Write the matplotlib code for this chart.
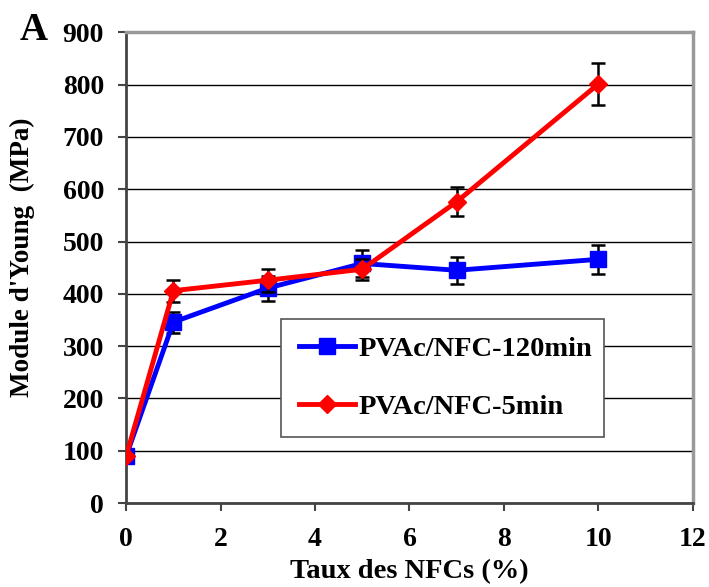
import matplotlib.pyplot as plt
from matplotlib.lines import Line2D

# Young's modulus vs NFC content
taux = [0, 1, 3, 5, 7, 10]

module_120 = [90, 346, 411, 458, 445, 466]
err_120 = [0, 20, 24, 25, 26, 28]

module_5 = [90, 406, 426, 447, 576, 801]
err_5 = [0, 21, 22, 20, 28, 40]

plt.rcParams['font.family'] = ['Liberation Serif', 'DejaVu Serif']
plt.rcParams['font.weight'] = 'bold'

fig = plt.figure(figsize=(7.09, 5.87), dpi=100)
ax = fig.add_axes([0.178, 0.143, 0.799, 0.802])

ax.errorbar(taux, module_120, yerr=err_120, color='#0000ff', lw=3.5,
            marker='s', markersize=11, ecolor='black', elinewidth=1.8,
            capsize=5, capthick=1.8, zorder=3)
ax.errorbar(taux, module_5, yerr=err_5, color='#ff0000', lw=3.5,
            marker='D', markersize=9, ecolor='black', elinewidth=1.8,
            capsize=5, capthick=1.8, zorder=4)

ax.set_xlim(0, 12)
ax.set_ylim(0, 900)
ax.set_xticks(range(0, 13, 2))
ax.set_yticks(range(0, 901, 100))
ax.yaxis.grid(True, color='black', lw=1)
ax.set_axisbelow(True)

for side in ['top', 'right']:
    ax.spines[side].set_color('#999999')
    ax.spines[side].set_linewidth(2.5)
for side in ['left', 'bottom']:
    ax.spines[side].set_color('#444444')
    ax.spines[side].set_linewidth(2)
ax.tick_params(direction='out', length=6, width=1.5, color='#444444',
               labelsize=20)
ax.tick_params(axis='y', pad=10)
ax.tick_params(axis='x', pad=11)

ax.set_xlabel('Taux des NFCs (%)', fontsize=20.5, fontweight='bold', labelpad=5)
ax.set_ylabel("Module d'Young  (MPa)", fontsize=19.5, fontweight='bold')
ax.yaxis.set_label_coords(-0.161, 0.522)

fig.text(0.027, 0.932, 'A', fontsize=28, fontweight='bold')

handles = [
    Line2D([], [], color='#0000ff', lw=3.5, marker='s', markersize=11),
    Line2D([], [], color='#ff0000', lw=3.5, marker='D', markersize=9),
]
labels = ['PVAc/NFC-120min', 'PVAc/NFC-5min']
leg = ax.legend(handles, labels, loc='lower left',
                bbox_to_anchor=(0.274, 0.14, 0.569, 0.257),
                mode='expand', fontsize=20.5, frameon=True, fancybox=False,
                handlelength=2.0, handletextpad=0.1, labelspacing=1.12,
                borderaxespad=0, borderpad=0.6)
leg.get_frame().set_edgecolor('#555555')
leg.get_frame().set_linewidth(1.2)
leg.get_frame().set_alpha(1)
for t in leg.get_texts():
    t.set_fontweight('bold')

fig.savefig('out.png', dpi=100)
